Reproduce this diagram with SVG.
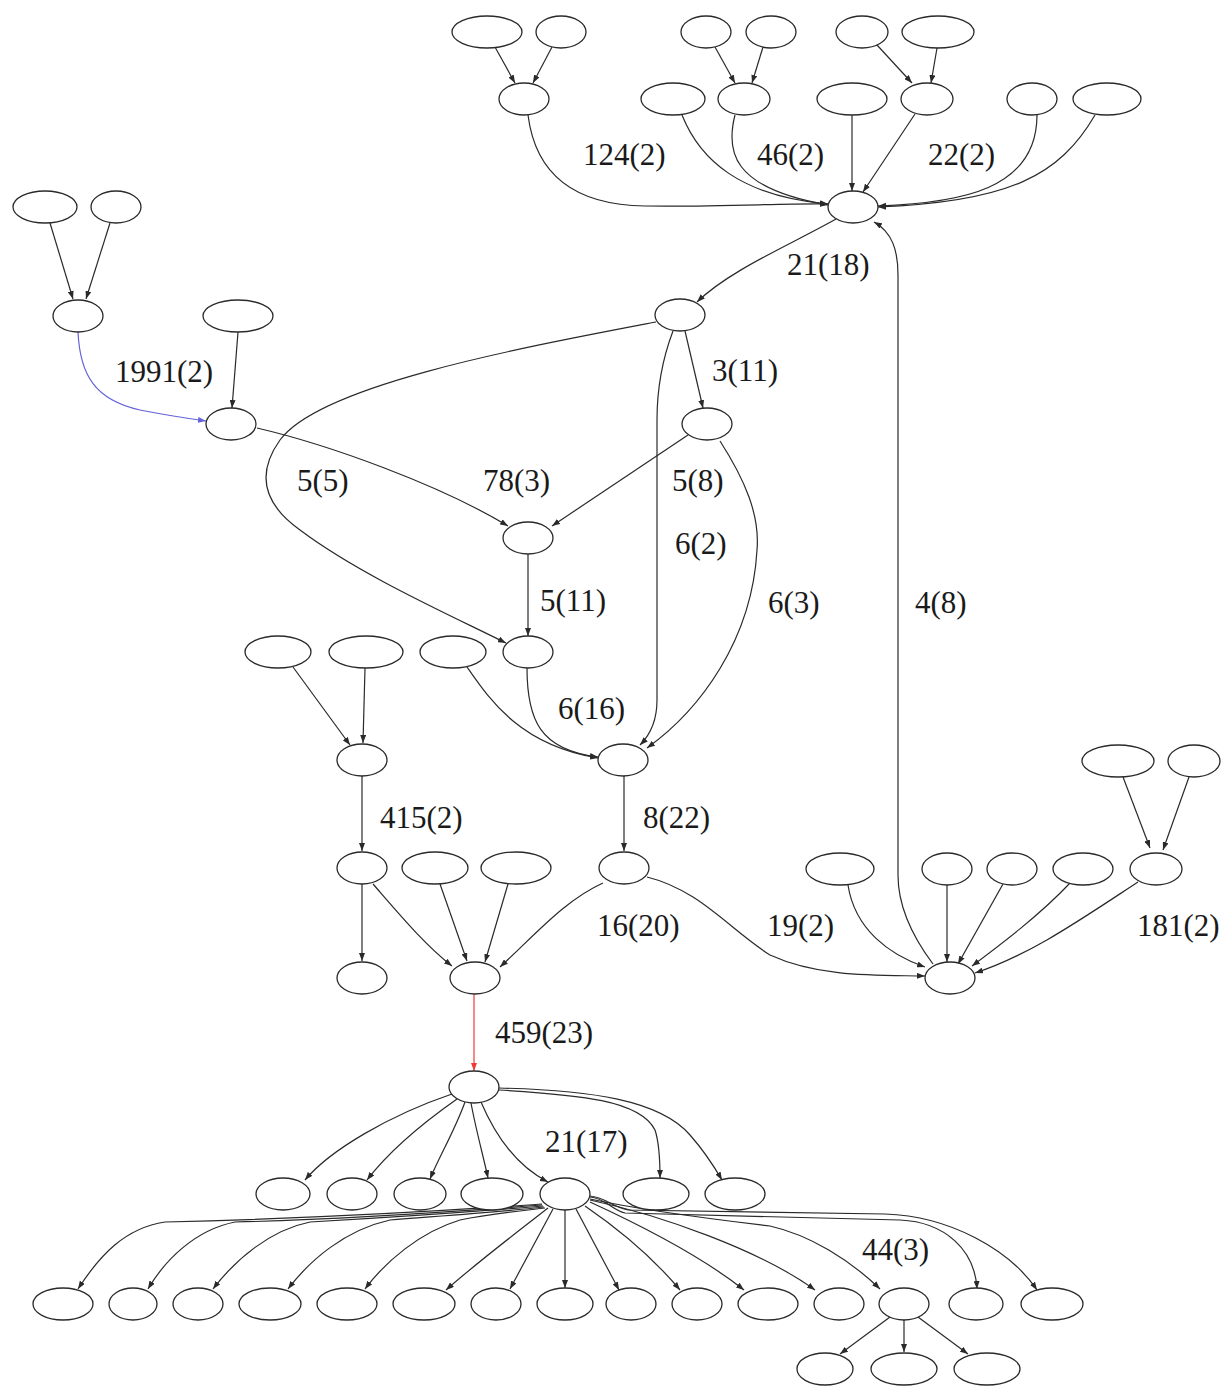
<svg xmlns="http://www.w3.org/2000/svg" width="1231" height="1397" viewBox="0 0 1231 1397">
  <style>
    .node ellipse { fill: #ffffff; stroke: #2a2a2a; stroke-width: 1.3; }
    .e { fill: none; stroke: #2a2a2a; stroke-width: 1.2; marker-end: url(#arr); }
    .e.blue { stroke: #6464d8; marker-end: url(#arrB); }
    .e.red { stroke: #f03a3a; marker-end: url(#arrR); }
    .lbl { font-family: "Liberation Serif", "Times New Roman", serif; font-size: 31px; fill: #1a1a1a; }
  </style>
  <defs>
    <marker id="arr" viewBox="0 0 8 6" markerWidth="8" markerHeight="6" refX="8" refY="3" orient="auto" markerUnits="userSpaceOnUse">
      <path d="M0,0 L8,3 L0,6 z" fill="#2a2a2a"/>
    </marker>
    <marker id="arrB" viewBox="0 0 8 6" markerWidth="8" markerHeight="6" refX="8" refY="3" orient="auto" markerUnits="userSpaceOnUse">
      <path d="M0,0 L8,3 L0,6 z" fill="#6464d8"/>
    </marker>
    <marker id="arrR" viewBox="0 0 8 6" markerWidth="8" markerHeight="6" refX="8" refY="3" orient="auto" markerUnits="userSpaceOnUse">
      <path d="M0,0 L8,3 L0,6 z" fill="#f03a3a"/>
    </marker>
  </defs>
  <rect width="1231" height="1397" fill="#ffffff"/>

  <!-- connectors -->
  <g id="edges">
    <!-- top cluster -->
    <path class="e" d="M495,47 L515,83"/>
    <path class="e" d="M552,47 L533,83"/>
    <path class="e" d="M715,47 L735,83"/>
    <path class="e" d="M763,47 L752,83"/>
    <path class="e" d="M877,45 L912,83"/>
    <path class="e" d="M937,48 L931,83"/>
    <path class="e" d="M528,115 C535,170 570,205 645,206 C720,207 790,203 828,204"/>
    <path class="e" d="M682,115 C700,160 740,196 828,204"/>
    <path class="e" d="M735,115 C726,150 730,188 828,205"/>
    <path class="e" d="M852,115 L852,191"/>
    <path class="e" d="M915,114 L863,192"/>
    <path class="e" d="M1037,115 C1037,190 960,203 878,206"/>
    <path class="e" d="M1095,115 C1060,175 1010,202 878,207"/>
    <path class="e" d="M836,219 C790,245 730,270 697,302"/>
    <path class="e" d="M933,964 C915,940 898,910 898,875 L898,275 C898,250 892,232 874,222"/>

    <!-- left cluster -->
    <path class="e" d="M50,223 L73,299"/>
    <path class="e" d="M110,223 L86,299"/>
    <path class="e blue" d="M78,332 C80,375 95,400 140,410 C165,415 185,418 206,421"/>
    <path class="e" d="M238,332 L232,408"/>
    <path class="e" d="M257,428 C330,445 440,485 508,526"/>

    <!-- middle cluster -->
    <path class="e" d="M656,322 C520,348 320,385 280,440 C255,475 265,505 300,530 C360,575 450,615 506,643"/>
    <path class="e" d="M685,331 L703,408"/>
    <path class="e" d="M673,331 C662,360 657,390 657,420 L657,700 C657,720 650,735 640,745"/>
    <path class="e" d="M688,435 L552,526"/>
    <path class="e" d="M720,441 C745,480 760,515 757,550 C752,640 700,710 647,748"/>
    <path class="e" d="M528,554 L528,636"/>
    <path class="e" d="M527,668 C527,720 540,750 598,757"/>
    <path class="e" d="M467,667 C490,700 520,745 598,758"/>
    <path class="e" d="M293,667 L350,745"/>
    <path class="e" d="M365,668 L363,743"/>
    <path class="e" d="M362,776 L362,851"/>
    <path class="e" d="M624,776 L624,851"/>
    <path class="e" d="M362,884 L362,961"/>
    <path class="e" d="M373,884 C400,915 425,945 452,966"/>
    <path class="e" d="M440,884 L467,961"/>
    <path class="e" d="M508,884 L485,962"/>
    <path class="e" d="M603,883 C565,900 535,935 500,967"/>
    <path class="e" d="M647,877 C700,890 730,930 770,955 C820,978 880,975 925,976"/>

    <!-- right cluster -->
    <path class="e" d="M848,885 C855,930 890,955 925,967"/>
    <path class="e" d="M947,885 L947,962"/>
    <path class="e" d="M1003,884 L958,964"/>
    <path class="e" d="M1070,883 C1040,915 1000,945 972,966"/>
    <path class="e" d="M1138,882 C1080,920 1030,955 975,973"/>
    <path class="e" d="M1123,777 L1150,848"/>
    <path class="e" d="M1189,777 L1163,850"/>

    <!-- lower tree -->
    <path class="e red" d="M474,994 L474,1071"/>
    <path class="e" d="M452,1094 C390,1115 330,1150 305,1180"/>
    <path class="e" d="M457,1099 C420,1125 390,1150 367,1180"/>
    <path class="e" d="M465,1102 C455,1130 440,1155 430,1179"/>
    <path class="e" d="M471,1103 C476,1130 483,1155 488,1178"/>
    <path class="e" d="M481,1102 C495,1135 515,1165 548,1182"/>
    <path class="e" d="M499,1090 C580,1095 640,1100 655,1130 C660,1145 660,1165 660,1178"/>
    <path class="e" d="M499,1088 C590,1090 660,1100 690,1135 C705,1152 715,1168 722,1180"/>

    <path class="e" d="M542,1204 C400,1214 250,1220 165,1222 C125,1228 100,1255 78,1289"/>
    <path class="e" d="M542,1205 C450,1212 320,1220 235,1222 C195,1230 165,1260 148,1289"/>
    <path class="e" d="M543,1206 C470,1212 380,1218 310,1222 C270,1230 235,1260 213,1289"/>
    <path class="e" d="M544,1207 C500,1212 440,1216 390,1220 C345,1230 310,1260 288,1289"/>
    <path class="e" d="M545,1208 C520,1211 490,1214 460,1220 C420,1232 385,1262 365,1289"/>
    <path class="e" d="M548,1208 C520,1230 480,1260 446,1290"/>
    <path class="e" d="M553,1209 L510,1289"/>
    <path class="e" d="M565,1210 L565,1288"/>
    <path class="e" d="M576,1209 L619,1290"/>
    <path class="e" d="M585,1206 C620,1230 655,1260 680,1290"/>
    <path class="e" d="M590,1202 C640,1225 700,1255 744,1290"/>
    <path class="e" d="M590,1200 C660,1215 760,1250 815,1290"/>
    <path class="e" d="M590,1199 C650,1212 720,1220 770,1226 C810,1235 850,1260 880,1289"/>
    <path class="e" d="M590,1197 C605,1198 612,1210 625,1213 L900,1220 C945,1222 975,1250 977,1289"/>
    <path class="e" d="M590,1196 C605,1197 612,1207 628,1210 L885,1214 C950,1216 1010,1250 1037,1290"/>
    <path class="e" d="M890,1317 L840,1354"/>
    <path class="e" d="M904,1320 L904,1352"/>
    <path class="e" d="M918,1317 L968,1354"/>

    <!-- edge labels -->
    <text class="lbl" x="583" y="165">124(2)</text>
    <text class="lbl" x="757" y="165">46(2)</text>
    <text class="lbl" x="928" y="165">22(2)</text>
    <text class="lbl" x="787" y="275">21(18)</text>
    <text class="lbl" x="115" y="382">1991(2)</text>
    <text class="lbl" x="712" y="381">3(11)</text>
    <text class="lbl" x="297" y="491">5(5)</text>
    <text class="lbl" x="483" y="491">78(3)</text>
    <text class="lbl" x="672" y="491">5(8)</text>
    <text class="lbl" x="675" y="554">6(2)</text>
    <text class="lbl" x="540" y="611">5(11)</text>
    <text class="lbl" x="768" y="613">6(3)</text>
    <text class="lbl" x="915" y="613">4(8)</text>
    <text class="lbl" x="558" y="719">6(16)</text>
    <text class="lbl" x="380" y="828">415(2)</text>
    <text class="lbl" x="643" y="828">8(22)</text>
    <text class="lbl" x="597" y="936">16(20)</text>
    <text class="lbl" x="767" y="936">19(2)</text>
    <text class="lbl" x="1137" y="936">181(2)</text>
    <text class="lbl" x="495" y="1043">459(23)</text>
    <text class="lbl" x="545" y="1152">21(17)</text>
    <text class="lbl" x="862" y="1260">44(3)</text>
  </g>

  <!-- nodes: top cluster -->
  <g id="a1" class="node"><ellipse cx="487" cy="32" rx="35" ry="16"/></g>
  <g id="a2" class="node"><ellipse cx="561" cy="32" rx="25" ry="16"/></g>
  <g id="b1" class="node"><ellipse cx="706" cy="32" rx="25" ry="16"/></g>
  <g id="b2" class="node"><ellipse cx="771" cy="32" rx="25" ry="16"/></g>
  <g id="c1" class="node"><ellipse cx="862" cy="32" rx="26" ry="16"/></g>
  <g id="c2" class="node"><ellipse cx="938" cy="32" rx="36" ry="16"/></g>
  <g id="d" class="node"><ellipse cx="524" cy="99" rx="25" ry="16"/></g>
  <g id="e" class="node"><ellipse cx="673" cy="99" rx="32" ry="16"/></g>
  <g id="f" class="node"><ellipse cx="744" cy="99" rx="26" ry="16"/></g>
  <g id="g" class="node"><ellipse cx="852" cy="99" rx="35" ry="16"/></g>
  <g id="h" class="node"><ellipse cx="927" cy="99" rx="26" ry="16"/></g>
  <g id="i" class="node"><ellipse cx="1032" cy="99" rx="25" ry="16"/></g>
  <g id="j" class="node"><ellipse cx="1107" cy="99" rx="34" ry="16"/></g>
  <g id="k" class="node"><ellipse cx="853" cy="207" rx="25" ry="16"/></g>

  <!-- nodes: left cluster -->
  <g id="l1" class="node"><ellipse cx="45" cy="207" rx="32" ry="16"/></g>
  <g id="l2" class="node"><ellipse cx="116" cy="207" rx="25" ry="16"/></g>
  <g id="m" class="node"><ellipse cx="78" cy="316" rx="25" ry="16"/></g>
  <g id="n" class="node"><ellipse cx="238" cy="316" rx="35" ry="16"/></g>
  <g id="o" class="node"><ellipse cx="231" cy="424" rx="25" ry="16"/></g>

  <!-- nodes: middle cluster -->
  <g id="p" class="node"><ellipse cx="680" cy="315" rx="25" ry="16"/></g>
  <g id="q" class="node"><ellipse cx="707" cy="424" rx="25" ry="16"/></g>
  <g id="r" class="node"><ellipse cx="528" cy="538" rx="25" ry="16"/></g>
  <g id="s" class="node"><ellipse cx="528" cy="652" rx="25" ry="16"/></g>
  <g id="t1" class="node"><ellipse cx="278" cy="652" rx="33" ry="16"/></g>
  <g id="t2" class="node"><ellipse cx="366" cy="652" rx="37" ry="16"/></g>
  <g id="t3" class="node"><ellipse cx="453" cy="652" rx="33" ry="16"/></g>
  <g id="u" class="node"><ellipse cx="362" cy="760" rx="25" ry="16"/></g>
  <g id="v" class="node"><ellipse cx="623" cy="760" rx="25" ry="16"/></g>
  <g id="w" class="node"><ellipse cx="362" cy="868" rx="25" ry="16"/></g>
  <g id="x1" class="node"><ellipse cx="435" cy="868" rx="33" ry="16"/></g>
  <g id="x2" class="node"><ellipse cx="516" cy="868" rx="35" ry="16"/></g>
  <g id="y" class="node"><ellipse cx="624" cy="868" rx="25" ry="16"/></g>
  <g id="z1" class="node"><ellipse cx="362" cy="978" rx="25" ry="16"/></g>
  <g id="z2" class="node"><ellipse cx="475" cy="978" rx="25" ry="16"/></g>

  <!-- nodes: right cluster -->
  <g id="r1" class="node"><ellipse cx="1118" cy="761" rx="36" ry="16"/></g>
  <g id="r2" class="node"><ellipse cx="1194" cy="761" rx="26" ry="16"/></g>
  <g id="s1" class="node"><ellipse cx="840" cy="869" rx="34" ry="16"/></g>
  <g id="s2" class="node"><ellipse cx="947" cy="869" rx="25" ry="16"/></g>
  <g id="s3" class="node"><ellipse cx="1012" cy="869" rx="25" ry="16"/></g>
  <g id="s4" class="node"><ellipse cx="1083" cy="869" rx="30" ry="16"/></g>
  <g id="s5" class="node"><ellipse cx="1156" cy="869" rx="26" ry="16"/></g>
  <g id="bb" class="node"><ellipse cx="950" cy="978" rx="25" ry="16"/></g>

  <!-- nodes: lower tree -->
  <g id="hub459" class="node"><ellipse cx="474" cy="1087" rx="25" ry="16"/></g>
  <g id="c7a" class="node"><ellipse cx="283" cy="1194" rx="27" ry="16"/></g>
  <g id="c7b" class="node"><ellipse cx="352" cy="1194" rx="25" ry="16"/></g>
  <g id="c7c" class="node"><ellipse cx="420" cy="1194" rx="26" ry="16"/></g>
  <g id="c7d" class="node"><ellipse cx="492" cy="1194" rx="31" ry="16"/></g>
  <g id="hub21" class="node"><ellipse cx="565" cy="1194" rx="25" ry="16"/></g>
  <g id="c7f" class="node"><ellipse cx="656" cy="1194" rx="33" ry="16"/></g>
  <g id="c7g" class="node"><ellipse cx="735" cy="1194" rx="30" ry="16"/></g>

  <g id="b01" class="node"><ellipse cx="63" cy="1304" rx="30" ry="16"/></g>
  <g id="b02" class="node"><ellipse cx="133" cy="1304" rx="24" ry="16"/></g>
  <g id="b03" class="node"><ellipse cx="198" cy="1304" rx="25" ry="16"/></g>
  <g id="b04" class="node"><ellipse cx="270" cy="1304" rx="31" ry="16"/></g>
  <g id="b05" class="node"><ellipse cx="347" cy="1304" rx="30" ry="16"/></g>
  <g id="b06" class="node"><ellipse cx="424" cy="1304" rx="31" ry="16"/></g>
  <g id="b07" class="node"><ellipse cx="496" cy="1304" rx="25" ry="16"/></g>
  <g id="b08" class="node"><ellipse cx="565" cy="1304" rx="28" ry="16"/></g>
  <g id="b09" class="node"><ellipse cx="631" cy="1304" rx="25" ry="16"/></g>
  <g id="b10" class="node"><ellipse cx="697" cy="1304" rx="25" ry="16"/></g>
  <g id="b11" class="node"><ellipse cx="768" cy="1304" rx="30" ry="16"/></g>
  <g id="b12" class="node"><ellipse cx="839" cy="1304" rx="25" ry="16"/></g>
  <g id="hub44" class="node"><ellipse cx="904" cy="1304" rx="25" ry="16"/></g>
  <g id="b14" class="node"><ellipse cx="976" cy="1304" rx="27" ry="16"/></g>
  <g id="b15" class="node"><ellipse cx="1052" cy="1304" rx="31" ry="16"/></g>

  <g id="g1" class="node"><ellipse cx="825" cy="1369" rx="28" ry="16"/></g>
  <g id="g2" class="node"><ellipse cx="904" cy="1369" rx="33" ry="16"/></g>
  <g id="g3" class="node"><ellipse cx="987" cy="1369" rx="33" ry="16"/></g>
</svg>
